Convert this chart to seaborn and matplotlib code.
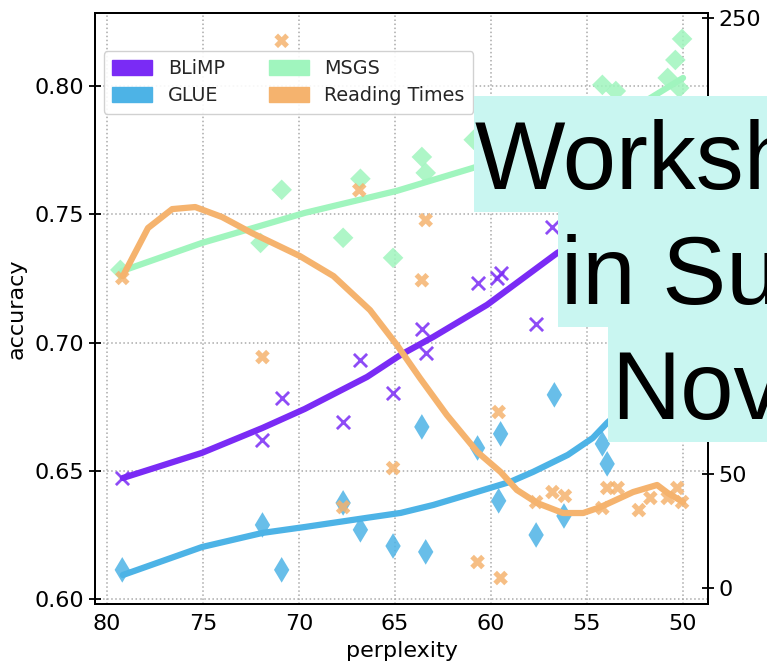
import matplotlib
matplotlib.use("Agg")
import matplotlib.pyplot as plt
from matplotlib.patches import Patch, Rectangle
import seaborn as sns

# ---------------- data ----------------
blimp_x = [79.2, 71.9, 70.9, 67.7, 66.8, 65.1, 63.6, 63.4, 60.7, 59.7, 59.5, 57.65, 56.8]
blimp_y = [0.6472, 0.6620, 0.6784, 0.6691, 0.6932, 0.6804, 0.7053, 0.6960, 0.7232, 0.7252, 0.7271, 0.7073, 0.7450]

glue_x = [79.2, 71.9, 70.9, 67.7, 66.8, 65.1, 63.6, 63.4, 60.7, 59.5, 59.6, 56.7, 57.65, 56.2, 54.2, 53.95]
glue_y = [0.6114, 0.6289, 0.6114, 0.6375, 0.6270, 0.6207, 0.6671, 0.6184, 0.6589, 0.6644, 0.6383, 0.6796, 0.6250, 0.6324, 0.6605, 0.6527]

msgs_x = [79.3, 72.0, 70.9, 66.8, 67.7, 65.1, 63.6, 63.4, 60.9, 54.2, 53.5, 50.05, 50.4, 50.8, 50.2]
msgs_y = [0.7283, 0.7388, 0.7595, 0.7638, 0.7408, 0.7330, 0.7723, 0.7661, 0.7790, 0.8004, 0.7980, 0.8183, 0.8101, 0.8031, 0.7992]

rt_x = [79.2, 70.9, 66.86, 63.4, 63.6, 71.9, 67.7, 65.1, 59.6, 60.7, 59.5, 57.65, 56.8, 56.15,
        54.2, 53.95, 53.4, 52.3, 51.7, 50.8, 50.3, 50.05]
rt_y = [136, 240, 174.5, 161.4, 135, 101.3, 35.5, 52.6, 77.2, 11.4, 4.4, 37.7, 42.1, 40.4,
        35.1, 43.9, 43.9, 34.2, 39.5, 39.5, 43.9, 37.7]

# fitted trend curves
blimp_fit_x = [79.17, 75.05, 71.9, 69.7, 66.45, 64.7, 63.0, 60.2, 56.55, 54.3, 50.0]
blimp_fit_y = [0.6472, 0.6570, 0.6667, 0.6741, 0.6866, 0.6952, 0.7022, 0.7147, 0.7349, 0.7440, 0.7600]

glue_fit_x = [79.17, 75.05, 71.9, 69.7, 66.45, 64.7, 63.0, 61.25, 59.0, 57.8, 56.0, 54.7, 53.95, 52.2, 50.0]
glue_fit_y = [0.6094, 0.6203, 0.6258, 0.6281, 0.6317, 0.6336, 0.6367, 0.6406, 0.6457, 0.6496, 0.6562, 0.6628, 0.6687, 0.6800, 0.6932]

msgs_fit_x = [79.2, 75.05, 69.7, 64.9, 60.95, 56.4, 53.8, 52.1, 50.0]
msgs_fit_y = [0.7279, 0.7388, 0.7505, 0.7591, 0.7680, 0.7790, 0.7875, 0.7934, 0.8031]

rt_fit_x = [79.17, 77.86, 76.6, 75.4, 74.0, 72.45, 69.95, 68.2, 66.3, 64.9, 63.7, 62.3, 60.7, 59.5,
            58.65, 57.6, 56.25, 55.2, 54.3, 52.6, 51.35, 50.8, 50.0]
rt_fit_y = [136.8, 157.9, 166.2, 167.1, 162.7, 155.7, 145.6, 136.8, 121.9, 106.6, 92.1, 75.9, 59.6, 50.9,
            43.0, 37.3, 32.9, 32.9, 35.5, 42.1, 45.2, 41.7, 37.7]

series_names = ["BLiMP", "GLUE", "MSGS", "Reading Times"]
colors = {"BLiMP": "#7A2BF5", "GLUE": "#4DB3E6", "MSGS": "#A0F5BE", "Reading Times": "#F5B36E"}

x_ticks = [80, 75, 70, 65, 60, 55, 50]
left_ticks = [0.60, 0.65, 0.70, 0.75, 0.80]
right_ticks = [0, 50, 100, 150, 200, 250]
right_labels = ["0", "50", "", "", "", "250"]  # 100-200 are hidden under the caption boxes

overlay_lines = ["Worksh", "in Su", "Nov"]

# ---------------- style ----------------
sns.set_theme(style="white")
plt.rcParams["font.family"] = ["DejaVu Sans"]

fig = plt.figure(figsize=(7.67, 6.65), dpi=100)
ax = fig.add_axes([95 / 767, 1 - 604 / 665, (708 - 95) / 767, (604 - 13) / 665])
ax2 = ax.twinx()

# scatter points
sns.scatterplot(x=blimp_x, y=blimp_y, ax=ax, marker="x", s=90, color=colors["BLiMP"],
                linewidth=2.0, alpha=0.85, zorder=3)
sns.scatterplot(x=glue_x, y=glue_y, ax=ax, marker="d", s=170, color=colors["GLUE"],
                edgecolor="none", alpha=0.85, zorder=3)
sns.scatterplot(x=msgs_x, y=msgs_y, ax=ax, marker="D", s=110, color=colors["MSGS"],
                edgecolor="none", alpha=0.85, zorder=3)

# trend lines
sns.lineplot(x=blimp_fit_x, y=blimp_fit_y, ax=ax, color=colors["BLiMP"], linewidth=4.5,
             sort=False, estimator=None, zorder=4)
sns.lineplot(x=glue_fit_x, y=glue_fit_y, ax=ax, color=colors["GLUE"], linewidth=4.5,
             sort=False, estimator=None, zorder=4)
sns.lineplot(x=msgs_fit_x, y=msgs_fit_y, ax=ax, color=colors["MSGS"], linewidth=4.5,
             sort=False, estimator=None, zorder=4)

sns.scatterplot(x=rt_x, y=rt_y, ax=ax2, marker="X", s=110, color=colors["Reading Times"],
                edgecolor="none", alpha=0.85, zorder=3)
sns.lineplot(x=rt_fit_x, y=rt_fit_y, ax=ax2, color=colors["Reading Times"], linewidth=4.5,
             sort=False, estimator=None, zorder=4)

# axes limits & ticks
ax.set_xlim(80.62, 48.7)
ax.set_ylim(0.5981, 0.8284)
ax2.set_ylim(-7.0, 252.2)
ax.set_xticks(x_ticks)
ax.set_yticks(left_ticks)
ax.set_yticklabels([f"{v:.2f}" for v in left_ticks])
ax2.set_yticks(right_ticks)
ax2.set_yticklabels(right_labels)

ax.grid(True, linestyle=":", color="#aaaaaa", linewidth=1.1)
ax2.grid(False)

for a in (ax, ax2):
    for sp in a.spines.values():
        sp.set_color("black")
        sp.set_linewidth(1.4)
ax.tick_params(axis="both", direction="inout", length=8, width=1.3, labelsize=16, colors="black")
ax2.tick_params(axis="y", direction="inout", length=8, width=1.3, labelsize=16, colors="black")

ax.set_xlabel("perplexity", fontsize=16, color="black", labelpad=5)
ax.set_ylabel("accuracy", fontsize=16, color="black", labelpad=6)
ax2.set_ylabel("")

# legend
handles = [Patch(facecolor=colors[n], edgecolor=colors[n], label=n) for n in series_names]
leg = ax2.legend(handles=handles, loc="upper left", bbox_to_anchor=(0.014, 0.936),
                 borderaxespad=0, ncol=2, fontsize=13.8, frameon=True, fancybox=True,
                 framealpha=0.9, edgecolor="#cccccc", handlelength=2.1, handleheight=0.8,
                 columnspacing=2.3, handletextpad=0.8, labelspacing=0.4, borderpad=0.45)
leg.set_zorder(10)

# caption overlay (cyan boxes with large text)
box_color = "#C9F6F1"
boxes = [(474, 96, 212), (558, 212, 327), (608, 327, 442)]
text_x = [475, 561, 611]
baselines = [189, 304, 419]
for (x0, y0, y1), tx, base, line in zip(boxes, text_x, baselines, overlay_lines):
    fig.add_artist(Rectangle((x0 / 767, 1 - y1 / 665), (767 - x0) / 767, (y1 - y0) / 665,
                             transform=fig.transFigure, facecolor=box_color,
                             edgecolor="none", zorder=20))
    fig.text(tx / 767, 1 - base / 665, line, fontsize=69, family=["Liberation Sans", "DejaVu Sans"],
             color="black", ha="left", va="baseline", zorder=21)

fig.savefig("out.png", dpi=100)
